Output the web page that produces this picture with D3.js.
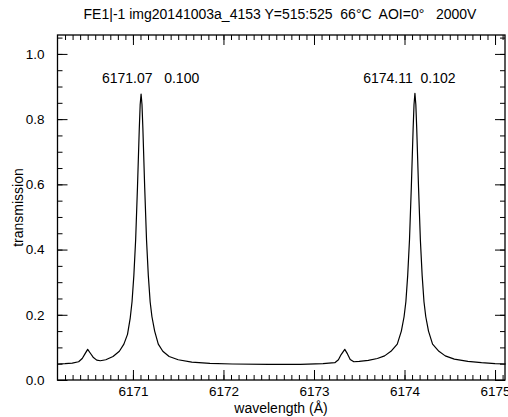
<!DOCTYPE html>
<html>
<head>
<meta charset="utf-8">
<script src="https://cdn.jsdelivr.net/npm/d3@7"></script>
<style>
  body { margin: 0; background: #fff; }
  text { font-family: "Liberation Sans", Arial, Helvetica, sans-serif; fill: #000; }
</style>
</head>
<body>
<div id="chart"></div>
<script>
// measured transmission profile
var wavelength = [6170.17, 6170.25, 6170.33, 6170.40, 6170.44, 6170.47, 6170.50, 6170.53, 6170.56, 6170.60, 6170.64,
    6170.70, 6170.78, 6170.85, 6170.90, 6170.94, 6170.97, 6170.99, 6171.01, 6171.03, 6171.05, 6171.07, 6171.08,
    6171.09, 6171.10, 6171.11, 6171.13, 6171.15, 6171.17, 6171.19, 6171.21, 6171.24, 6171.28, 6171.33, 6171.40,
    6171.50, 6171.65, 6171.85, 6172.10, 6172.50, 6172.85, 6173.10, 6173.23, 6173.27, 6173.30, 6173.34, 6173.37,
    6173.40, 6173.44, 6173.50, 6173.60, 6173.70, 6173.78, 6173.85, 6173.92, 6173.965, 6173.995, 6174.015, 6174.035,
    6174.055, 6174.075, 6174.095, 6174.105, 6174.115, 6174.125, 6174.135, 6174.155, 6174.175, 6174.195, 6174.215,
    6174.235, 6174.265, 6174.31, 6174.38, 6174.45, 6174.55, 6174.70, 6174.85, 6175.00, 6175.12];
var transmission = [0.049, 0.050, 0.052, 0.056, 0.066, 0.080, 0.094, 0.082, 0.070, 0.061, 0.059,
    0.062, 0.072, 0.088, 0.110, 0.140, 0.190, 0.240, 0.320, 0.430, 0.590, 0.770, 0.845,
    0.877, 0.845, 0.770, 0.590, 0.430, 0.320, 0.240, 0.194, 0.150, 0.110, 0.088, 0.072,
    0.062, 0.055, 0.051, 0.049, 0.048, 0.048, 0.050, 0.053, 0.062, 0.078, 0.094, 0.080,
    0.063, 0.056, 0.057, 0.060, 0.066, 0.074, 0.088, 0.110, 0.150, 0.194, 0.240, 0.320,
    0.430, 0.590, 0.770, 0.845, 0.879, 0.845, 0.770, 0.590, 0.430, 0.320, 0.240,
    0.194, 0.150, 0.110, 0.088, 0.074, 0.064, 0.057, 0.053, 0.050, 0.049];

// peak annotations
var peakLabels = ["6171.07   0.100", "6174.11  0.102"];
var peakX = [6171.09, 6174.115];

var xTicks = [6171, 6172, 6173, 6174, 6175];
var yTicks = [0.0, 0.2, 0.4, 0.6, 0.8, 1.0];
var yTickLabels = ["0.0", "0.2", "0.4", "0.6", "0.8", "1.0"];

var title = "FE1|-1 img20141003a_4153 Y=515:525  66°C  AOI=0°   2000V";

var W = 508, H = 417;
var margin = { left: 57.5, right: 505, top: 35, bottom: 380 };

var svg = d3.select("#chart").append("svg")
    .attr("width", W)
    .attr("height", H);

var x = d3.scaleLinear().domain([6170.1667, 6175.11]).range([margin.left, margin.right]);
var y = d3.scaleLinear().domain([0, 1.058]).range([margin.bottom, margin.top]);

// minor ticks: 12 per angstrom on x, 0.05 on y
var xMinor = d3.range(6170, 6176.01, 1 / 12).filter(function (d) { return d >= x.domain()[0] - 1e-6 && d <= x.domain()[1]; });
var yMinor = d3.range(0, 1.06, 0.05);

function style(g) {
    g.select(".domain").remove();
    g.selectAll("line").attr("stroke", "#000").attr("stroke-width", 1);
}

// bottom
svg.append("g").attr("transform", "translate(0," + margin.bottom + ")")
    .call(d3.axisBottom(x).tickValues(xMinor).tickSize(-5).tickFormat(""))
    .call(style);
svg.append("g").attr("transform", "translate(0," + margin.bottom + ")")
    .call(d3.axisBottom(x).tickValues(xTicks).tickSize(-10).tickPadding(6).tickFormat(d3.format("d")))
    .call(style)
    .selectAll("text").attr("font-size", 13.5).attr("font-family", "Liberation Sans, Arial, sans-serif");
// top
svg.append("g").attr("transform", "translate(0," + margin.top + ")")
    .call(d3.axisTop(x).tickValues(xMinor).tickSize(-5).tickFormat(""))
    .call(style);
svg.append("g").attr("transform", "translate(0," + margin.top + ")")
    .call(d3.axisTop(x).tickValues(xTicks).tickSize(-10).tickFormat(""))
    .call(style);
// left
svg.append("g").attr("transform", "translate(" + margin.left + ",0)")
    .call(d3.axisLeft(y).tickValues(yMinor).tickSize(-5).tickFormat(""))
    .call(style);
svg.append("g").attr("transform", "translate(" + margin.left + ",0)")
    .call(d3.axisLeft(y).tickValues(yTicks).tickSize(-10).tickPadding(13)
        .tickFormat(function (d, i) { return yTickLabels[i]; }))
    .call(style)
    .selectAll("text").attr("font-size", 13.5).attr("font-family", "Liberation Sans, Arial, sans-serif");
// right
svg.append("g").attr("transform", "translate(" + margin.right + ",0)")
    .call(d3.axisRight(y).tickValues(yMinor).tickSize(-5).tickFormat(""))
    .call(style);
svg.append("g").attr("transform", "translate(" + margin.right + ",0)")
    .call(d3.axisRight(y).tickValues(yTicks).tickSize(-10).tickFormat(""))
    .call(style);

// frame
svg.append("rect")
    .attr("x", margin.left).attr("y", margin.top)
    .attr("width", margin.right - margin.left).attr("height", margin.bottom - margin.top)
    .attr("fill", "none").attr("stroke", "#000").attr("stroke-width", 1.3);

// profile line
var line = d3.line()
    .x(function (d, i) { return x(wavelength[i]); })
    .y(function (d) { return y(d); });

svg.append("path")
    .datum(transmission)
    .attr("fill", "none")
    .attr("stroke", "#000")
    .attr("stroke-width", 1.2)
    .attr("stroke-linejoin", "round")
    .attr("d", line);

// peak labels
svg.selectAll(".peak")
    .data(peakLabels)
    .enter().append("text")
    .attr("class", "peak")
    .attr("x", function (d, i) { return x(peakX[i]) + (i == 0 ? 9.5 : -5.5); })
    .attr("y", 83)
    .attr("text-anchor", "middle")
    .attr("font-size", 14)
    .style("white-space", "pre")
    .text(function (d) { return d; });

// title
svg.append("text")
    .attr("x", 280).attr("y", 19)
    .attr("text-anchor", "middle")
    .attr("font-size", 14)
    .style("white-space", "pre")
    .text(title);

// axis titles
svg.append("text")
    .attr("x", 281).attr("y", 413)
    .attr("text-anchor", "middle")
    .attr("font-size", 14)
    .text("wavelength (Å)");

svg.append("text")
    .attr("transform", "translate(23," + (margin.top + margin.bottom) / 2 + ") rotate(-90)")
    .attr("text-anchor", "middle")
    .attr("font-size", 14)
    .text("transmission");
</script>
</body>
</html>
